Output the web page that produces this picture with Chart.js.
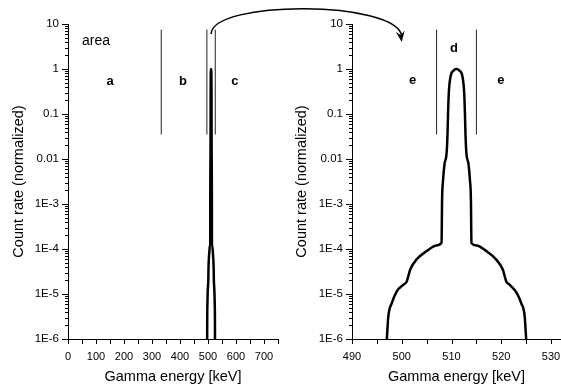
<!DOCTYPE html>
<html>
<head>
<meta charset="utf-8">
<script src="https://cdn.jsdelivr.net/npm/chart.js@4.4.0/dist/chart.umd.min.js"></script>
<style>
  html, body { margin: 0; padding: 0; background: #fff; }
  #wrap { position: relative; width: 561px; height: 389px; overflow: hidden; }
  #wrap canvas { position: absolute; top: 0; }
  #left-chart { left: 0; }
  #right-chart { left: 283px; }
  #arrow-layer { left: 0; pointer-events: none; }
</style>
</head>
<body>
<div id="wrap">
  <canvas id="left-chart" width="283" height="389"></canvas>
  <canvas id="right-chart" width="278" height="389"></canvas>
  <canvas id="arrow-layer" width="561" height="389"></canvas>
</div>
<script>
// spectrum around the 511 keV annihilation line
var energy = [496.9, 497.0, 497.3, 498.0, 499.0, 500.3, 501.0, 501.7, 503.0, 505.0, 507.0, 508.0,
  508.1, 508.3, 508.6, 509.0, 509.2, 509.3, 509.45, 509.8, 510.4, 511.0,
  511.6, 512.2, 512.55, 512.7, 512.8, 513.0, 513.4, 513.7, 513.9, 514.0,
  515.0, 517.0, 519.0, 520.3, 521.0, 521.7, 523.0, 524.0, 524.7, 525.0, 525.1];
var countRate = [7e-7, 1e-6, 3.2e-6, 6.3e-6, 1.15e-5, 1.6e-5, 1.9e-5, 3.5e-5, 5.9e-5, 9.0e-5, 1.2e-4, 1.38e-4,
  1.2e-3, 3.4e-3, 7.9e-3, 0.013, 0.037, 0.1, 0.29, 0.68, 0.92, 1.0,
  0.92, 0.68, 0.29, 0.1, 0.037, 0.013, 7.9e-3, 3.4e-3, 1.2e-3, 1.35e-4,
  1.2e-4, 9.0e-5, 5.8e-5, 3.5e-5, 1.9e-5, 1.6e-5, 1.1e-5, 6.3e-6, 3.2e-6, 1e-6, 7e-7];

// y axis (log) major ticks and their labels
var yTickValues = [1e-6, 1e-5, 1e-4, 1e-3, 0.01, 0.1, 1, 10];
var yTickLabels = ['1E-6', '1E-5', '1E-4', '1E-3', '0.01', '0.1', '1', '10'];

// x ticks
var leftXLabels = [0, 100, 200, 300, 400, 500, 600, 700];
var leftXRange = [0, 750];
var rightXLabels = [490, 500, 510, 520, 530];
var rightXRange = [490, 532];

// region dividers and region letters
var leftBounds = [333, 496, 526];
var rightBounds = [507, 515];
var boundSpan = [0.035, 7.5];
var leftRegionNames = ['a', 'b', 'c'];
var leftRegionX = [150, 411, 596];
var rightRegionNames = ['e', 'd', 'e'];
var rightRegionX = [502.2, 510.5, 519.9];
var rightRegionY = [0.55, 2.8, 0.55];
var regionY = 0.52;

var FONT = '"Liberation Sans", Arial, sans-serif';

function curvePoints() {
  return energy.map(function(e, i) { return {x: e, y: countRate[i]}; });
}

function boundSets(bounds) {
  return bounds.map(function(b) {
    return {
      data: [{x: b, y: boundSpan[0]}, {x: b, y: boundSpan[1]}],
      borderColor: '#222', borderWidth: 1, pointRadius: 0
    };
  });
}

// minor ticks 1..9 per decade
function logTicks() {
  var t = [];
  for (var i = 0; i < yTickValues.length; i++) {
    var d = yTickValues[i];
    if (i === yTickValues.length - 1) { t.push({value: d}); break; }
    for (var k = 1; k <= 9; k++) t.push({value: +(k * d).toPrecision(3)});
  }
  return t;
}

function majorY(v) {
  return yTickValues.some(function(d) { return Math.abs(v / d - 1) < 1e-6; });
}

// draws tick marks: long for decades, short for the rest
var tickPlugin = {
  id: 'ticks',
  afterDraw: function(chart) {
    var ctx = chart.ctx, xs = chart.scales.x, ys = chart.scales.y;
    ctx.save();
    ctx.strokeStyle = '#000';
    ctx.lineWidth = 1;
    ctx.beginPath();
    ys.ticks.forEach(function(t) {
      var py = Math.round(ys.getPixelForValue(t.value)) + 0.5;
      var len = majorY(t.value) ? 6 : 3;
      ctx.moveTo(ys.right, py);
      ctx.lineTo(ys.right - len, py);
    });
    xs.ticks.forEach(function(t) {
      var px = Math.round(xs.getPixelForValue(t.value)) + 0.5;
      ctx.moveTo(px, xs.top);
      ctx.lineTo(px, xs.top + 5);
    });
    ctx.stroke();
    ctx.restore();
  }
};

// region letters
var labelPlugin = {
  id: 'regionLabels',
  afterDatasetsDraw: function(chart, args, opts) {
    var ctx = chart.ctx, xs = chart.scales.x, ys = chart.scales.y;
    ctx.save();
    ctx.fillStyle = '#000';
    ctx.textBaseline = 'middle';
    ctx.textAlign = 'center';
    ctx.font = 'bold 13px ' + FONT;
    opts.names.forEach(function(n, i) {
      ctx.fillText(n, xs.getPixelForValue(opts.xs[i]), ys.getPixelForValue(opts.ys[i]));
    });
    if (opts.area) {
      ctx.font = '14px ' + FONT;
      ctx.textAlign = 'left';
      ctx.fillText('area', xs.getPixelForValue(50), ys.getPixelForValue(4.2));
    }
    ctx.restore();
  }
};

function makeChart(id, range, labels, step, bounds, regions, yAxisWidth, rightPad) {
  return new Chart(document.getElementById(id), {
    type: 'line',
    data: {
      datasets: [{
        data: curvePoints(),
        borderColor: '#000',
        borderWidth: 2.5,
        pointRadius: 0,
        cubicInterpolationMode: 'monotone'
      }].concat(boundSets(bounds))
    },
    options: {
      responsive: false,
      animation: false,
      events: [],
      layout: {padding: {top: 24, right: rightPad, left: 0, bottom: 0}},
      plugins: {
        legend: {display: false},
        tooltip: {enabled: false},
        regionLabels: regions
      },
      scales: {
        x: {
          type: 'linear',
          min: range[0],
          max: range[1],
          grid: {display: false, drawTicks: true, tickLength: 5},
          border: {display: true, color: '#000', width: 1},
          afterBuildTicks: function(s) {
            var t = [];
            for (var v = range[0]; v <= range[1]; v += step) t.push({value: v});
            s.ticks = t;
          },
          afterFit: function(s) {
            s.height = 50;
            s.paddingLeft = 0;
            s.paddingRight = 0;
          },
          ticks: {
            autoSkip: false,
            maxRotation: 0,
            padding: 6,
            color: '#000',
            font: {family: FONT, size: 11},
            callback: function(v) { return labels.indexOf(v) >= 0 ? String(v) : ''; }
          },
          title: {
            display: true,
            text: 'Gamma energy [keV]',
            color: '#000',
            font: {family: FONT, size: 14.5},
            padding: {top: 0, bottom: 3}
          }
        },
        y: {
          type: 'logarithmic',
          min: 1e-6,
          max: 10,
          grid: {display: false, drawTicks: true, tickLength: 6},
          border: {display: true, color: '#000', width: 1},
          afterBuildTicks: function(s) { s.ticks = logTicks(); },
          afterFit: function(s) {
            s.width = yAxisWidth;
            s.paddingTop = 0;
            s.paddingBottom = 0;
          },
          ticks: {
            autoSkip: false,
            padding: 3,
            color: '#000',
            font: {family: FONT, size: 11.5},
            callback: function(v) {
              for (var i = 0; i < yTickValues.length; i++) {
                if (Math.abs(v / yTickValues[i] - 1) < 1e-6) return yTickLabels[i];
              }
              return '';
            }
          },
          title: {
            display: true,
            text: 'Count rate (normalized)',
            color: '#000',
            font: {family: FONT, size: 14.5},
            padding: {top: 10, bottom: 0}
          }
        }
      }
    },
    plugins: [tickPlugin, labelPlugin]
  });
}

var leftChart = makeChart('left-chart', leftXRange, leftXLabels, 50, leftBounds,
  {names: leftRegionNames, xs: leftRegionX, ys: leftRegionNames.map(function() { return regionY; }), area: true}, 68, 5);
var rightChart = makeChart('right-chart', rightXRange, rightXLabels, 5, rightBounds,
  {names: rightRegionNames, xs: rightRegionX, ys: rightRegionY, area: false}, 69, 0);

// curved arrow from the peak on the left to the zoomed view on the right
function drawArrow() {
  var ctx = document.getElementById('arrow-layer').getContext('2d');
  var rOff = 283;
  var sx = leftChart.scales.x.getPixelForValue(511);
  var sy = leftChart.scales.y.getPixelForValue(6);
  var ex = rOff + rightChart.scales.x.getPixelForValue(500);
  var ey = rightChart.scales.y.getPixelForValue(4);
  var c1x = sx + 1, c1y = sy - 34;
  var c2x = ex - 6, c2y = sy - 34;
  ctx.clearRect(0, 0, 561, 389);
  ctx.strokeStyle = '#000';
  ctx.fillStyle = '#000';
  ctx.lineWidth = 1.5;
  ctx.beginPath();
  ctx.moveTo(sx, sy);
  ctx.bezierCurveTo(c1x, c1y, c2x, c2y, ex, ey - 6);
  ctx.stroke();
  // arrow head
  var ang = Math.atan2(ey - c2y, ex - c2x);
  var len = 11, half = 4.5;
  var bx = ex - len * Math.cos(ang), by = ey - len * Math.sin(ang);
  var nx = -Math.sin(ang), ny = Math.cos(ang);
  var mx = ex - len * 0.6 * Math.cos(ang), my = ey - len * 0.6 * Math.sin(ang);
  ctx.beginPath();
  ctx.moveTo(ex, ey);
  ctx.lineTo(bx + nx * half, by + ny * half);
  ctx.lineTo(mx, my);
  ctx.lineTo(bx - nx * half, by - ny * half);
  ctx.closePath();
  ctx.fill();
}

drawArrow();
</script>
</body>
</html>
